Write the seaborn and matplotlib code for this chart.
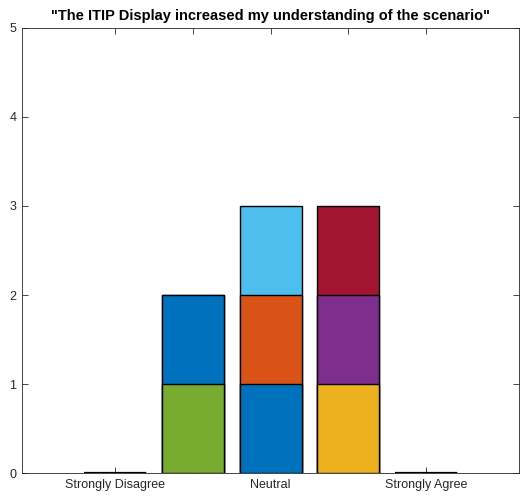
import matplotlib
matplotlib.use("Agg")
import matplotlib.pyplot as plt
import seaborn as sns
import pandas as pd
import numpy as np

categories = ["Strongly Disagree", "Disagree", "Neutral", "Agree", "Strongly Agree"]
tick_labels = ["Strongly Disagree", "", "Neutral", "", "Strongly Agree"]

# stacked segments, bottom to top
layer1 = [0, 1, 1, 1, 0]
layer2 = [0, 1, 1, 1, 0]
layer3 = [0, 0, 1, 1, 0]

layer1_colors = ["#0072BD", "#77AC30", "#0072BD", "#EDB120", "#0072BD"]
layer2_colors = ["#0072BD", "#0072BD", "#D95319", "#7E2F8E", "#0072BD"]
layer3_colors = ["#0072BD", "#0072BD", "#4DBEEE", "#A2142F", "#0072BD"]

sns.set_style("white")
plt.rcParams['font.family'] = ['Liberation Sans', 'DejaVu Sans']

fig = plt.figure(figsize=(5.26, 4.99), dpi=100)
ax = fig.add_axes([0.042, 0.052, 0.945, 0.892])

layers = [layer1, layer2, layer3]
colors = [layer1_colors, layer2_colors, layer3_colors]
cum = np.cumsum(np.array(layers), axis=0)

# draw tallest cumulative stack first so lower segments sit on top
for k in range(len(layers) - 1, -1, -1):
    df = pd.DataFrame({"cat": categories, "val": cum[k]})
    sns.barplot(data=df, x="cat", y="val", hue="cat", order=categories,
                palette=dict(zip(categories, colors[k])), legend=False,
                width=0.8, edgecolor="black", linewidth=1.0, ax=ax,
                saturation=1)

# zero-height bars show as a thicker baseline segment
for i, v in enumerate(cum[-1]):
    if v == 0:
        ax.hlines(0, i - 0.4, i + 0.4, color="black", linewidth=1.6, zorder=3)

ax.set_xlim(-1.2, 5.2)
ax.set_ylim(0, 5)
ax.set_yticks(range(6))
ax.set_xticks(range(5))
ax.set_xticklabels(tick_labels)
ax.set_xlabel("")
ax.set_ylabel("")
ax.tick_params(direction="in", length=4, width=0.6, color="#262626",
               labelsize=9, labelcolor="#262626", top=True, right=True,
               bottom=True, left=True, pad=4)
for s in ax.spines.values():
    s.set_visible(True)
    s.set_color("#262626")
    s.set_linewidth(0.6)
ax.set_title('"The ITIP Display increased my understanding of the scenario"',
             fontsize=10.5, fontweight="bold", color="black", pad=6)

fig.savefig("out.png", dpi=100)
